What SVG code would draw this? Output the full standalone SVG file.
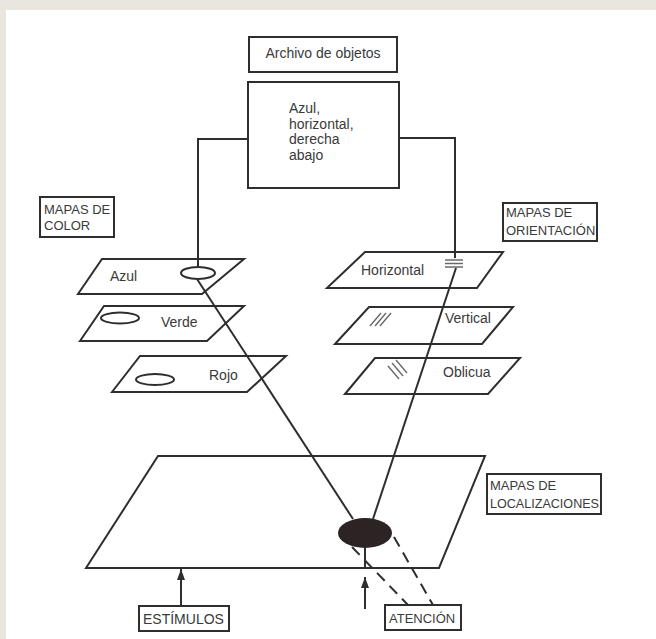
<svg xmlns="http://www.w3.org/2000/svg" width="656" height="639" viewBox="0 0 656 639">
  <style>
    .box { fill: #ffffff; stroke: #2e2e2e; stroke-width: 2; }
    .plane { fill: none; stroke: #2e2e2e; stroke-width: 2; stroke-linejoin: miter; }
    .mark { fill: none; stroke: #2e2e2e; stroke-width: 2; }
    .hatch { fill: none; stroke: #6a6a6a; stroke-width: 1.4; }
    .wire { fill: none; stroke: #2e2e2e; stroke-width: 2; }
    .dash { fill: none; stroke: #2e2e2e; stroke-width: 2; stroke-dasharray: 11 7; }
    text { font-family: "Liberation Sans", Arial, sans-serif; font-size: 14px; fill: #3a3a3a; }
    .cap { font-size: 13px; }
  </style>
  <defs>
    <marker id="arrow" markerWidth="11" markerHeight="8" refX="11" refY="4" orient="auto" markerUnits="userSpaceOnUse" viewBox="0 0 11 8">
      <path d="M0,0 L11,4 L0,8 Z" fill="#2e2e2e"/>
    </marker>
  </defs>

  <!-- page -->
  <rect x="0" y="0" width="656" height="639" fill="#e9e6de"/>
  <rect x="6" y="10" width="650" height="629" fill="#ffffff"/>

  <!-- object file -->
  <g id="archivo">
    <rect class="box" x="249" y="37" width="148" height="35"/>
    <text x="323" y="58" text-anchor="middle">Archivo de objetos</text>
  </g>
  <g id="objeto">
    <rect class="box" x="248" y="82" width="151" height="106"/>
    <text x="289" y="113">Azul,</text>
    <text x="289" y="128.5">horizontal,</text>
    <text x="289" y="144">derecha</text>
    <text x="289" y="159.5">abajo</text>
  </g>

  <!-- colour maps -->
  <g id="mapas-color">
    <rect class="box" x="40" y="197" width="74" height="40"/>
    <text class="cap" x="44" y="214">MAPAS DE</text>
    <text class="cap" x="44" y="230">COLOR</text>
  </g>
  <g id="azul">
    <polygon class="plane" points="78,294 102,259 244,259 202,294"/>
    <text x="110" y="281">Azul</text>
    <ellipse class="mark" cx="198" cy="273" rx="17" ry="6"/>
  </g>
  <g id="verde">
    <polygon class="plane" points="80,341 104,306 244,306 207,341"/>
    <ellipse class="mark" cx="120" cy="318" rx="19" ry="5.5"/>
    <text x="161" y="327">Verde</text>
  </g>
  <g id="rojo">
    <polygon class="plane" points="112,392 140,356 286,356 247,392"/>
    <ellipse class="mark" cx="155" cy="379.5" rx="19" ry="5.5"/>
    <text x="209" y="380">Rojo</text>
  </g>

  <!-- orientation maps -->
  <g id="mapas-orientacion">
    <rect class="box" x="503" y="203" width="94" height="38"/>
    <text class="cap" x="506" y="217">MAPAS DE</text>
    <text class="cap" x="506" y="235">ORIENTACIÓN</text>
  </g>
  <g id="horizontal">
    <polygon class="plane" points="327,288 365,252 503,252 477,288"/>
    <text x="361" y="275">Horizontal</text>
    <path class="hatch" d="M445,260 H463 M445,263.5 H463 M445,267 H463"/>
  </g>
  <g id="vertical">
    <polygon class="plane" points="335,344 369,307 513,307 482,344"/>
    <path class="hatch" d="M370,326 L381,313 M375,326 L386,313 M380,326 L391,313"/>
    <text x="445" y="323">Vertical</text>
  </g>
  <g id="oblicua">
    <polygon class="plane" points="345,394 375,358 520,358 488,394"/>
    <path class="hatch" d="M388,366 L399,379 M392,363 L403,376 M396,360 L407,373"/>
    <text x="443" y="377">Oblicua</text>
  </g>

  <!-- location map -->
  <g id="mapa-localizaciones">
    <polygon class="plane" points="86,568 158,456 485,456 439,568"/>
  </g>
  <g id="foco">
    <ellipse cx="365" cy="533" rx="27" ry="15" fill="#2c2424"/>
  </g>
  <g id="mapas-localizaciones">
    <rect class="box" x="487" y="474" width="114" height="40"/>
    <text class="cap" x="490" y="490">MAPAS DE</text>
    <text class="cap" x="490" y="508" textLength="109" lengthAdjust="spacingAndGlyphs">LOCALIZACIONES</text>
  </g>

  <!-- inputs -->
  <g id="estimulos">
    <rect class="box" x="139" y="606" width="90" height="25"/>
    <text x="143" y="624">ESTÍMULOS</text>
  </g>
  <g id="atencion">
    <rect class="box" x="385" y="605" width="76" height="25"/>
    <text class="cap" x="389" y="623">ATENCIÓN</text>
  </g>

  <!-- connectors -->
  <g id="connectors">
    <polyline class="wire" points="248,139 198,139 198,267"/>
    <polyline class="wire" points="399,138 455,138 455,258"/>
    <line class="wire" x1="197" y1="279" x2="353" y2="519"/>
    <line class="wire" x1="456" y1="268" x2="373" y2="519"/>
    <line class="dash" x1="352" y1="547" x2="408" y2="605"/>
    <line class="dash" x1="394" y1="537" x2="433" y2="605"/>
    <line class="wire" x1="365" y1="548" x2="365" y2="568"/>
    <line class="wire" x1="181" y1="606" x2="181" y2="569" marker-end="url(#arrow)"/>
    <line class="wire" x1="365" y1="609" x2="365" y2="577" marker-end="url(#arrow)"/>
  </g>
</svg>
